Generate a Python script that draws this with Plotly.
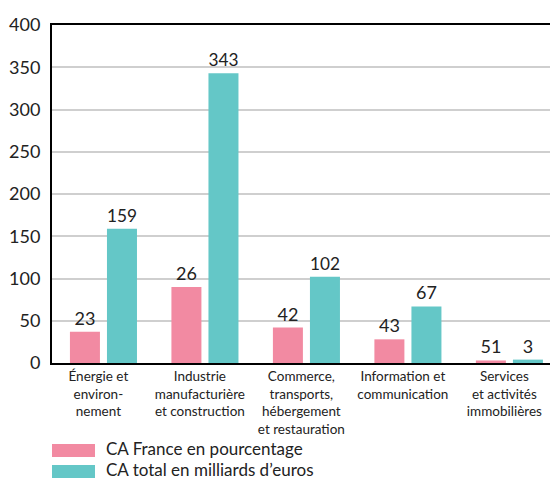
import plotly.graph_objects as go

categories = ["Énergie et<br>environ-<br>nement",
              "Industrie<br>manufacturière<br>et construction",
              "Commerce,<br>transports,<br>hébergement<br>et restauration",
              "Information et<br>communication",
              "Services<br>et activités<br>immobilières"]
france_heights = [37, 90, 42, 28, 3]
france_labels = ["23", "26", "42", "43", "51"]
total_values = [159, 343, 102, 67, 4]
total_labels = ["159", "343", "102", "67", "3"]
series_names = ["CA France en pourcentage", "CA total en milliards d’euros"]
y_ticks = [0, 50, 100, 150, 200, 250, 300, 350, 400]

PINK = "#F28AA2"
TEAL = "#64C7C7"
FONT = "Lato"
TXT = "#222222"

xpos = list(range(len(categories)))

fig = go.Figure()
fig.add_trace(go.Bar(x=xpos, y=france_heights, text=france_labels, name=series_names[0],
                     marker=dict(color=PINK, line=dict(width=0)),
                     textposition="outside", textfont=dict(size=18, color=TXT, family=FONT),
                     cliponaxis=False, showlegend=False, hoverinfo="skip"))
fig.add_trace(go.Bar(x=xpos, y=total_values, text=total_labels, name=series_names[1],
                     marker=dict(color=TEAL, line=dict(width=0)),
                     textposition="outside", textfont=dict(size=18, color=TXT, family=FONT),
                     cliponaxis=False, showlegend=False, hoverinfo="skip"))

fig.update_layout(
    width=550, height=480,
    margin=dict(l=52, r=0, t=25, b=117),
    paper_bgcolor="white", plot_bgcolor="white",
    barmode="group", bargap=0.27, bargroupgap=0.19,
    font=dict(family=FONT, color=TXT),
    xaxis=dict(range=[-0.507, 4.40], tickvals=[p - 0.05 for p in xpos], ticktext=categories,
               showline=True, linecolor="black", linewidth=2, mirror=True,
               showgrid=False, zeroline=False, ticks="", ticklabelstandoff=0,
               tickfont=dict(size=13.5, color=TXT, family=FONT)),
    yaxis=dict(range=[0, 400], tickvals=y_ticks, showline=True, linecolor="black", linewidth=2,
               showgrid=True, gridcolor="#cfcfcf", gridwidth=1.5, zeroline=False, ticks="",
               ticklabelstandoff=6,
               tickfont=dict(size=18, color=TXT, family=FONT)),
)

# custom legend
legend_colors = [PINK, TEAL]
for i, (name, col) in enumerate(zip(series_names, legend_colors)):
    y0 = 444 + i * 21
    fig.add_shape(type="rect", xref="paper", yref="paper",
                  x0=0, x1=43 / 498, y0=(480 - 117 - (y0 + 13)) / 338, y1=(480 - 117 - y0) / 338,
                  fillcolor=col, line=dict(width=0))
    fig.add_annotation(xref="paper", yref="paper", x=53 / 498, y=(480 - 117 - (y0 + 4.5)) / 338,
                       text=name, showarrow=False, xanchor="left", yanchor="middle",
                       borderpad=0, font=dict(size=17, color=TXT, family=FONT))

fig.write_html("out.html", config={"displayModeBar": False},
               post_script="document.body.style.margin='0px';")
